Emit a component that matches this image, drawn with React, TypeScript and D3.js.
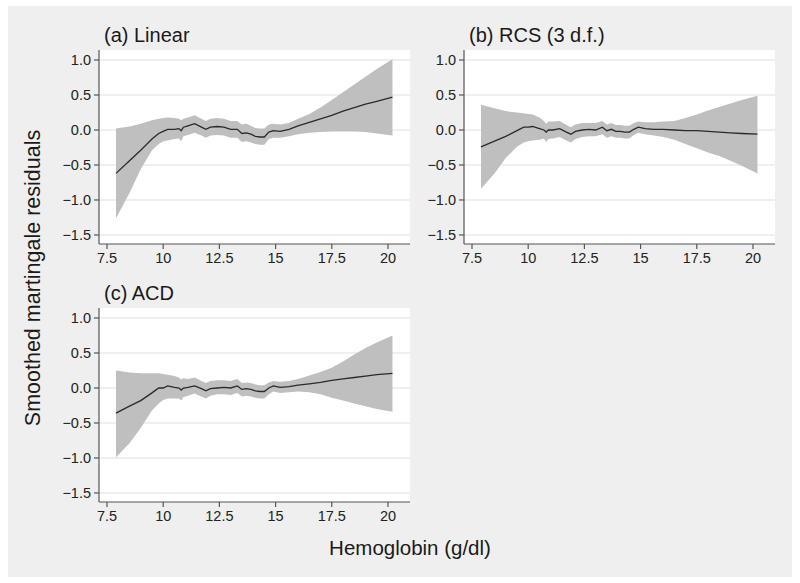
import React from "react";
import * as d3 from "d3";

const hb = [7.9, 8.5, 9.0, 9.5, 9.8, 10.0, 10.2, 10.5, 10.7, 10.8, 10.9, 11.1, 11.4, 11.7, 11.9, 12.1, 12.4, 12.7, 13.0, 13.3, 13.5, 13.7, 13.9, 14.1, 14.3, 14.5, 14.7, 14.9, 15.2, 15.6, 16.0, 16.5, 17.0, 17.5, 18.0, 18.5, 19.0, 19.5, 20.2];

const linearFit = [-0.62, -0.44, -0.29, -0.13, -0.05, -0.02, 0.01, 0.01, 0.02, -0.01, 0.04, 0.06, 0.09, 0.04, 0.01, 0.04, 0.05, 0.04, 0.01, 0.01, -0.05, -0.04, -0.06, -0.09, -0.10, -0.10, -0.03, -0.01, -0.02, 0.01, 0.06, 0.11, 0.16, 0.21, 0.27, 0.32, 0.37, 0.41, 0.47];
const linearHi = [0.02, 0.05, 0.09, 0.14, 0.16, 0.17, 0.18, 0.17, 0.16, 0.14, 0.16, 0.18, 0.21, 0.16, 0.13, 0.16, 0.17, 0.16, 0.13, 0.13, 0.08, 0.09, 0.06, 0.03, 0.02, 0.02, 0.08, 0.09, 0.08, 0.10, 0.16, 0.23, 0.32, 0.43, 0.54, 0.65, 0.76, 0.87, 1.01];
const linearLo = [-1.26, -0.90, -0.56, -0.29, -0.20, -0.16, -0.15, -0.13, -0.12, -0.16, -0.09, -0.07, -0.04, -0.08, -0.11, -0.08, -0.07, -0.08, -0.11, -0.11, -0.17, -0.16, -0.18, -0.20, -0.21, -0.21, -0.13, -0.11, -0.11, -0.09, -0.06, -0.04, -0.03, -0.02, -0.02, -0.02, -0.03, -0.05, -0.08];

const rcsFit = [-0.24, -0.16, -0.09, -0.01, 0.04, 0.04, 0.05, 0.02, 0.0, -0.03, 0.0, 0.0, 0.02, -0.03, -0.06, -0.02, 0.0, 0.01, 0.0, 0.04, -0.01, 0.01, -0.02, -0.02, -0.03, -0.03, 0.01, 0.04, 0.02, 0.01, 0.01, 0.0, -0.01, -0.01, -0.02, -0.03, -0.04, -0.05, -0.06];
const rcsHi = [0.36, 0.31, 0.27, 0.25, 0.24, 0.23, 0.22, 0.18, 0.13, 0.09, 0.12, 0.12, 0.13, 0.07, 0.04, 0.08, 0.10, 0.10, 0.10, 0.13, 0.08, 0.10, 0.07, 0.07, 0.06, 0.06, 0.10, 0.12, 0.11, 0.11, 0.12, 0.13, 0.17, 0.22, 0.28, 0.33, 0.38, 0.43, 0.49];
const rcsLo = [-0.84, -0.62, -0.40, -0.24, -0.18, -0.16, -0.15, -0.14, -0.12, -0.17, -0.13, -0.12, -0.10, -0.15, -0.18, -0.13, -0.10, -0.09, -0.09, -0.06, -0.11, -0.09, -0.11, -0.11, -0.12, -0.12, -0.07, -0.04, -0.06, -0.08, -0.10, -0.14, -0.20, -0.26, -0.32, -0.37, -0.44, -0.51, -0.62];

const acdFit = [-0.36, -0.26, -0.18, -0.07, 0.0, 0.0, 0.03, 0.01, 0.0, -0.03, 0.0, 0.01, 0.03, -0.01, -0.04, -0.01, 0.0, 0.01, 0.0, 0.03, -0.02, -0.01, -0.02, -0.04, -0.05, -0.05, 0.0, 0.03, 0.01, 0.02, 0.04, 0.06, 0.08, 0.11, 0.13, 0.15, 0.17, 0.19, 0.21];
const acdHi = [0.25, 0.22, 0.21, 0.21, 0.21, 0.20, 0.19, 0.17, 0.15, 0.12, 0.14, 0.13, 0.15, 0.10, 0.07, 0.10, 0.11, 0.11, 0.10, 0.13, 0.07, 0.08, 0.07, 0.05, 0.04, 0.04, 0.08, 0.10, 0.09, 0.10, 0.13, 0.18, 0.23, 0.29, 0.38, 0.48, 0.57, 0.65, 0.75];
const acdLo = [-0.99, -0.79, -0.57, -0.32, -0.22, -0.17, -0.15, -0.15, -0.15, -0.18, -0.13, -0.11, -0.08, -0.12, -0.15, -0.11, -0.09, -0.09, -0.10, -0.07, -0.12, -0.11, -0.12, -0.14, -0.15, -0.15, -0.09, -0.05, -0.07, -0.06, -0.05, -0.06, -0.09, -0.14, -0.18, -0.22, -0.26, -0.30, -0.34];

const xTicks = [7.5, 10, 12.5, 15, 17.5, 20];
const xTickLabels = ["7.5", "10", "12.5", "15", "17.5", "20"];
const yTicks = [1.0, 0.5, 0.0, -0.5, -1.0, -1.5];
const yTickLabels = ["1.0", "0.5", "0.0", "\u22120.5", "\u22121.0", "\u22121.5"];

const panelTitles = ["(a) Linear", "(b) RCS (3 d.f.)", "(c) ACD"];
const yTitle = "Smoothed martingale residuals";
const xTitle = "Hemoglobin (g/dl)";

const FONT = "'Liberation Sans', Arial, Helvetica, sans-serif";
const PW = 311;
const PH = 194;

const panels = [
  { title: panelTitles[0], fit: linearFit, hi: linearHi, lo: linearLo, x0: 99, y0: 50 },
  { title: panelTitles[1], fit: rcsFit, hi: rcsHi, lo: rcsLo, x0: 464, y0: 50 },
  { title: panelTitles[2], fit: acdFit, hi: acdHi, lo: acdLo, x0: 99, y0: 308 },
];

function Panel({ p }: { p: typeof panels[number] }) {
  const x = d3.scaleLinear().domain([7.144, 20.98]).range([0, PW]);
  const y = d3.scaleLinear().domain([-1.629, 1.143]).range([PH, 0]);
  const idx = d3.range(hb.length);
  const area = d3
    .area<number>()
    .x((i) => x(hb[i]))
    .y0((i) => y(p.lo[i]))
    .y1((i) => y(p.hi[i]));
  const line = d3
    .line<number>()
    .x((i) => x(hb[i]))
    .y((i) => y(p.fit[i]));
  return (
    <g transform={`translate(${p.x0},${p.y0})`}>
      <rect x={0} y={0} width={PW} height={PH} fill="#ffffff" />
      {yTicks.map((t) => (
        <line key={"g" + t} x1={0} x2={PW} y1={y(t)} y2={y(t)} stroke="#eaeaea" strokeWidth={1.5} />
      ))}
      <path d={area(idx) || ""} fill="#bfbfbf" stroke="none" />
      <path d={line(idx) || ""} fill="none" stroke="#2a2a2a" strokeWidth={1.3} />
      <line x1={0} x2={0} y1={0} y2={PH} stroke="#555" strokeWidth={1.2} />
      <line x1={0} x2={PW} y1={PH} y2={PH} stroke="#555" strokeWidth={1.2} />
      {yTicks.map((t, i) => (
        <g key={"y" + t}>
          <line x1={-5} x2={0} y1={y(t)} y2={y(t)} stroke="#555" strokeWidth={1.2} />
          <text x={-8} y={y(t)} dy="0.35em" textAnchor="end" fontSize={14.5} fill="#222" fontFamily={FONT}>
            {yTickLabels[i]}
          </text>
        </g>
      ))}
      {xTicks.map((t, i) => (
        <g key={"x" + t}>
          <line x1={x(t)} x2={x(t)} y1={PH} y2={PH + 5} stroke="#555" strokeWidth={1.2} />
          <text x={x(t)} y={PH + 19} textAnchor="middle" fontSize={14.5} fill="#222" fontFamily={FONT}>
            {xTickLabels[i]}
          </text>
        </g>
      ))}
      <text x={5} y={-8} fontSize={20} fill="#1a1a1a" fontFamily={FONT}>
        {p.title}
      </text>
    </g>
  );
}

export default function App() {
  return (
    <svg
      width={800}
      height={583}
      style={{ position: "absolute", left: 0, top: 0, background: "#ffffff" }}
    >
      <rect x={8} y={6} width={784} height={571} fill="#efefef" />
      {panels.map((p) => (
        <Panel key={p.title} p={p} />
      ))}
      <text
        transform="translate(40,278) rotate(-90)"
        textAnchor="middle"
        fontSize={21.5}
        fill="#1a1a1a"
        fontFamily={FONT}
      >
        {yTitle}
      </text>
      <text x={410} y={555} textAnchor="middle" fontSize={20.5} fill="#1a1a1a" fontFamily={FONT}>
        {xTitle}
      </text>
    </svg>
  );
}
